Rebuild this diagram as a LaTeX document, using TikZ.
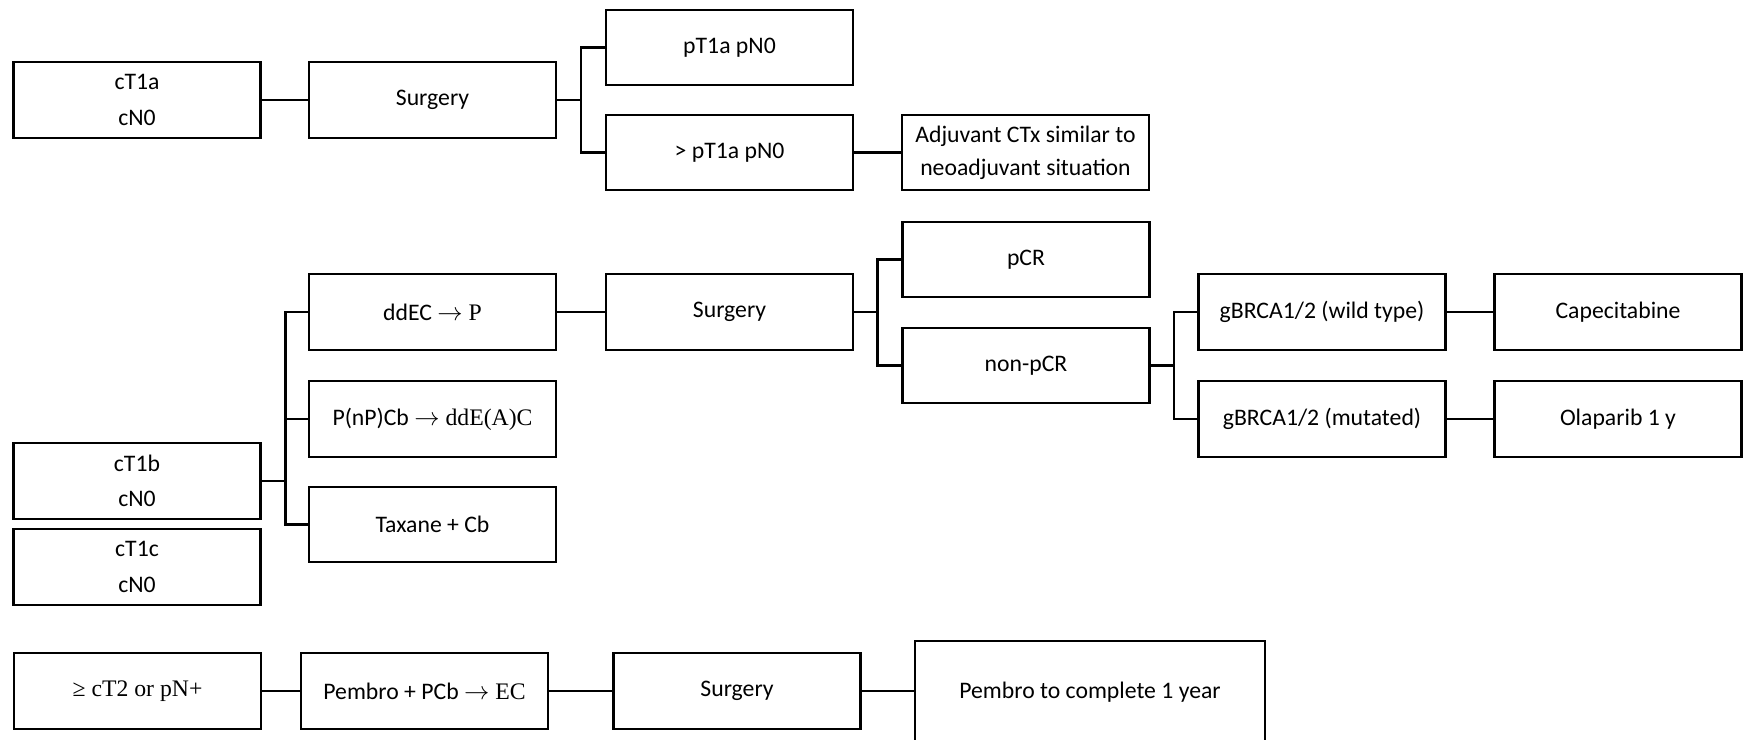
\documentclass[tikz,border=0pt]{standalone}
\usepackage{fontspec}
\setmainfont{Carlito}
\newfontfamily\timesfont{Liberation Serif}

\begin{document}
\begin{tikzpicture}[x=0.02cm,y=-0.02cm,
  box/.style={draw,line width=1.4pt,minimum width=4.94cm,minimum height=1.51cm,
    inner sep=0pt,align=center,font=\fontsize{13.5}{20}\selectfont},
  link/.style={line width=1.4pt}]
  \useasboundingbox (0,0) rectangle (1751,740);

  \node[box] (t1a) at (137,100) {cT1a\\cN0};
  \node[box] (surg1) at (432.5,100) {Surgery};
  \node[box] (pt1a) at (729.5,47.5) {pT1a pN0};
  \node[box] (gtpt1a) at (729.5,152.5) {> pT1a pN0};
  \node[box,font=\fontsize{13.5}{19}\selectfont] (adj) at (1025.5,152.5) {Adjuvant CTx similar to\\neoadjuvant situation};
  \coordinate (b1) at (581,100);
  \draw[link] (t1a) -- (surg1);
  \draw[link] (surg1.east) -- (b1);
  \draw[link] (pt1a.west) -| (b1) |- (gtpt1a.west);
  \draw[link] (gtpt1a) -- (adj);

  \node[box] (t1b) at (137,481) {cT1b\\cN0};
  \node[box] (t1c) at (137,567) {cT1c\\cN0};
  \node[box] (ddec) at (432.5,312) {ddEC {\timesfont$\rightarrow$ P}};
  \node[box] (pnp) at (432.5,419) {P(nP)Cb {\timesfont$\rightarrow$ ddE(A)C}};
  \node[box] (tax) at (432.5,524.5) {Taxane + Cb};
  \node[box] (surg2) at (729.5,312) {Surgery};
  \node[box] (pcr) at (1026,259.5) {pCR};
  \node[box] (npcr) at (1026,365.5) {non-pCR};
  \node[box] (wild) at (1322,312) {gBRCA1/2 (wild type)};
  \node[box] (mut) at (1322,419) {gBRCA1/2 (mutated)};
  \node[box] (cape) at (1618,312) {Capecitabine};
  \node[box] (ola) at (1618,419) {Olaparib 1 y};
  \coordinate (b2) at (285.5,481);
  \coordinate (b3) at (877.5,312);
  \coordinate (b4) at (1174,365.5);
  \draw[link] (t1b.east) -- (b2);
  \draw[link] (ddec.west) -| (b2) |- (tax.west);
  \draw[link] (pnp.west) -- (pnp.west -| b2);
  \draw[link] (ddec) -- (surg2);
  \draw[link] (surg2.east) -- (b3);
  \draw[link] (pcr.west) -| (b3) |- (npcr.west);
  \draw[link] (npcr.east) -- (b4);
  \draw[link] (wild.west) -| (b4) |- (mut.west);
  \draw[link] (wild) -- (cape);
  \draw[link] (mut) -- (ola);

  \node[box] (ct2) at (137.5,691) {\timesfont≥ cT2 or pN+};
  \node[box] (pemb) at (424.5,691) {Pembro + PCb {\timesfont$\rightarrow$ EC}};
  \node[box] (surg3) at (737,691) {Surgery};
  \node[box,minimum width=7cm,minimum height=2.04cm] (comp) at (1090,692) {Pembro to complete 1 year};
  \draw[link] (ct2) -- (pemb);
  \draw[link] (pemb) -- (surg3);
  \draw[link] (surg3.east) -- (surg3.east -| comp.west);
\end{tikzpicture}
\end{document}
